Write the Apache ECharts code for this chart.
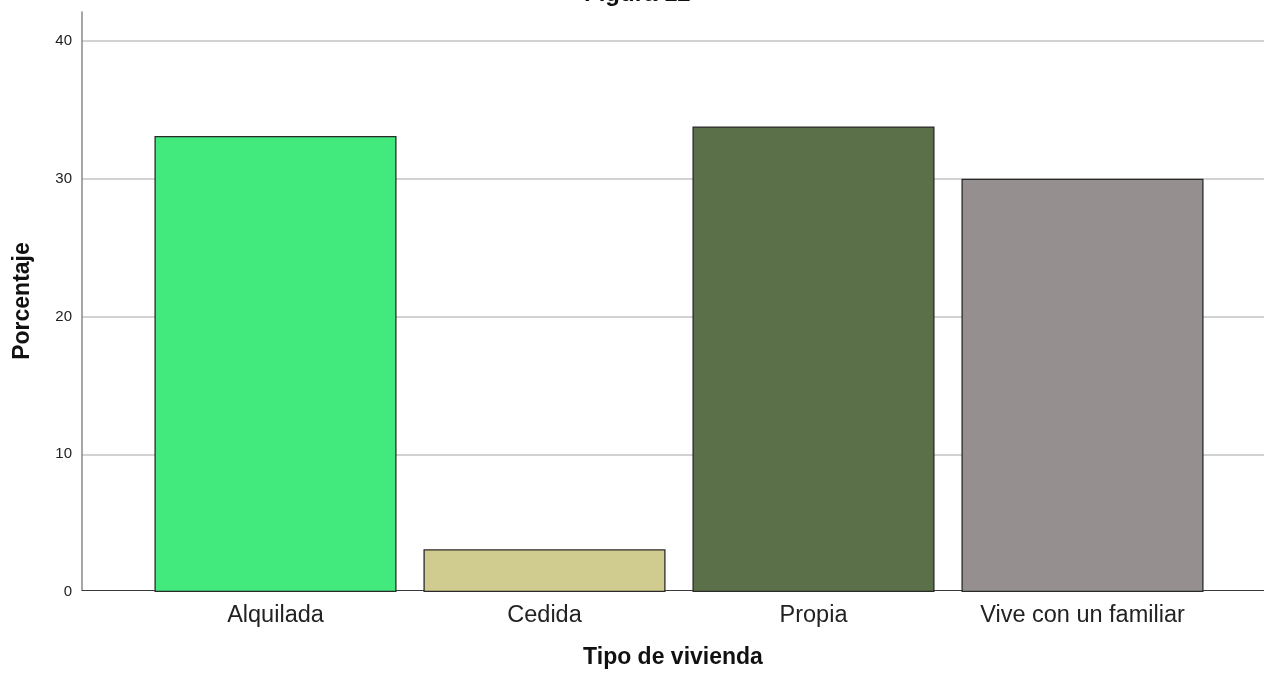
<!DOCTYPE html>
<html>
<head>
<meta charset="utf-8">
<script src="https://cdn.jsdelivr.net/npm/echarts@6/dist/echarts.min.js"></script>
<style>
html,body{margin:0;padding:0;background:#fff;}
#chart{width:1264px;height:674px;}
</style>
</head>
<body>
<div id="chart"></div>
<script>
const categories = ['Alquilada', 'Cedida', 'Propia', 'Vive con un familiar'];
const percentages = [33.1, 3.1, 33.8, 30.0];
const barColors = ['#42ea7e', '#d0cb8e', '#5b7049', '#95908f'];
const yTicks = [0, 10, 20, 30, 40];
const titleText = 'Figura 12';
const xTitle = 'Tipo de vivienda';
const yTitle = 'Porcentaje';

const FONT = "'Liberation Sans', Arial, sans-serif";
const chart = echarts.init(document.getElementById('chart'), null, {renderer: 'canvas'});

const option = {
  animation: false,
  backgroundColor: '#ffffff',
  textStyle: {fontFamily: FONT},
  title: {
    text: titleText,
    left: 584,
    top: -18,
    padding: 0,
    textStyle: {fontFamily: FONT, fontSize: 24, fontWeight: 'bold', color: '#111'}
  },
  grid: [
    {left: 82, right: 0, top: 12, bottom: 82},
    {left: 82, right: 0, top: 41, bottom: 82},
    {left: 141, right: 47, top: 41, bottom: 82}
  ],
  xAxis: [
    {
      gridIndex: 0, type: 'category', data: categories,
      axisLine: {show: true, lineStyle: {color: '#3a3a3a', width: 1}},
      axisTick: {show: false}, axisLabel: {show: false}, splitLine: {show: false},
      name: xTitle, nameLocation: 'middle', nameGap: 56,
      nameTextStyle: {fontFamily: FONT, fontSize: 23, fontWeight: 'bold', color: '#111'}
    },
    {
      gridIndex: 1, type: 'category', data: categories, show: false
    },
    {
      gridIndex: 2, type: 'category', data: categories,
      axisLine: {show: false}, axisTick: {show: false},
      axisLabel: {show: true, fontFamily: FONT, fontSize: 23.5, color: '#222', margin: 12},
      splitLine: {show: false}
    }
  ],
  yAxis: [
    {
      gridIndex: 0, type: 'value', min: 0, max: 42,
      axisLine: {show: true, lineStyle: {color: '#888', width: 1.5}},
      axisTick: {show: false}, axisLabel: {show: false}, splitLine: {show: false},
      name: yTitle, nameLocation: 'middle', nameGap: 48, nameRotate: 90,
      nameTextStyle: {fontFamily: FONT, fontSize: 23, fontWeight: 'bold', color: '#111'}
    },
    {
      gridIndex: 1, type: 'value', min: yTicks[0], max: yTicks[yTicks.length - 1], interval: 10,
      axisLine: {show: false}, axisTick: {show: false},
      axisLabel: {show: true, fontFamily: FONT, fontSize: 15, color: '#222', margin: 10},
      splitLine: {show: true, showMinLine: false, lineStyle: {color: '#d2d2d2', width: 2}}
    },
    {
      gridIndex: 2, type: 'value', min: yTicks[0], max: yTicks[yTicks.length - 1], interval: 10,
      show: false, splitLine: {show: false}
    }
  ],
  series: [
    {
      type: 'bar',
      xAxisIndex: 2, yAxisIndex: 2,
      barWidth: '90%',
      data: percentages.map((v, i) => ({
        value: v,
        itemStyle: {color: barColors[i], borderColor: '#2a2a2a', borderWidth: 1.3}
      }))
    }
  ]
};
chart.setOption(option);
</script>
</body>
</html>
